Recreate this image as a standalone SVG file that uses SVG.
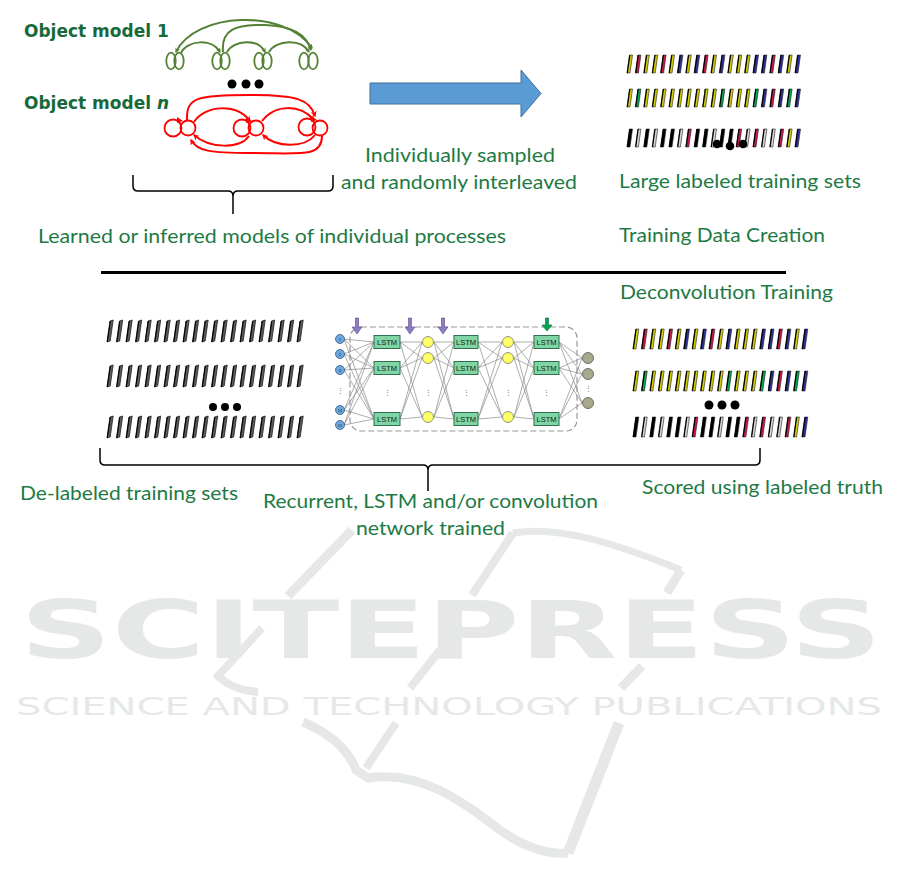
<svg xmlns="http://www.w3.org/2000/svg" xmlns:xlink="http://www.w3.org/1999/xlink" width="901" height="890" viewBox="0 0 901 890">
<style>
.t{font-family:Lato,"Open Sans","Noto Sans",sans-serif;font-size:19px;fill:#1e7a44}
.h{font-family:"DejaVu Sans",Verdana,sans-serif;font-weight:bold;font-size:17px;fill:#17693a}
.wm{fill:#e6e8e8;font-family:"DejaVu Sans",sans-serif}
.sw{fill:none;stroke:#e6e8e8;stroke-linecap:butt}
.gr{fill:none;stroke:#548235;stroke-width:2}
.rd{fill:none;stroke:#ff0000;stroke-width:2}
.Y{fill:#d2cc00}.R{fill:#c8184a}.B{fill:#2e2e9a}.G{fill:#00a651}.W{fill:#d6d6d6}.K{fill:#000}
.lstm{fill:#7fd6a4;stroke:#2f6f4f;stroke-width:1}
.lt{font-family:"Liberation Sans",Arial,sans-serif;font-size:7.5px;fill:#1a1a1a;text-anchor:middle}
.yel{fill:#ffff66;stroke:#777;stroke-width:0.8}
.inp{fill:#6fa8dc;stroke:#2e5c8a;stroke-width:0.8}
.out{fill:#a9a98c;stroke:#555;stroke-width:0.8}
.vd{font-family:"Liberation Sans",Arial,sans-serif;font-size:7px;fill:#666;text-anchor:middle}
.brace{fill:none;stroke:#000;stroke-width:1.5}
</style>
<defs>
<marker id="ag" viewBox="0 0 10 10" refX="8" refY="5" markerWidth="5" markerHeight="5" orient="auto-start-reverse" markerUnits="userSpaceOnUse"><path d="M0,0 L10,5 L0,10 L3,5 Z" fill="#548235"/></marker>
<marker id="ar" viewBox="0 0 10 10" refX="8" refY="5" markerWidth="6" markerHeight="6" orient="auto-start-reverse" markerUnits="userSpaceOnUse"><path d="M0,0 L10,5 L0,10 L3,5 Z" fill="#ff0000"/></marker>
<g id="cb"><path d="M0,18 L2.5,0 L5.5,0 L3,18 Z" stroke="#222" stroke-width="0.6"/><path d="M0.3,18 L2.8,0" stroke="#000" stroke-width="1.2"/></g>
<g id="cb2"><path d="M0,20 L2.8,0 L5.8,0 L3,20 Z" stroke="#222" stroke-width="0.6"/><path d="M0.3,20 L3.1,0" stroke="#000" stroke-width="1.2"/></g>
<g id="gb"><path d="M0,22 L3,1 L6.2,0 L3.2,21 Z" fill="#5c5c5c" stroke="#111" stroke-width="0.7"/><path d="M0.3,22 L3.3,1" stroke="#000" stroke-width="1.1"/></g>
</defs>
<rect width="901" height="890" fill="#fff"/>

<g id="watermark">
<path class="sw" stroke-width="9" d="M352,530 L288,596"/>
<path class="sw" stroke-width="8" d="M262,628 L218,676 Q232,690 258,692"/>
<path class="sw" stroke-width="9" d="M303,722 Q345,740 356,770 L368,778 C420,770 460,800 500,830 C525,848 550,855 568,853"/>
<path class="sw" stroke-width="11" d="M568,853 L619,723"/>
<path class="sw" stroke-width="9" d="M642,666 L621,688"/>
<path class="sw" stroke-width="9" d="M681,570 L667,593"/>
<path class="sw" stroke-width="7" d="M513,533 C560,525 620,545 681,570"/>
<path class="sw" stroke-width="8" d="M513,533 L472,595"/>
<path class="sw" stroke-width="8" d="M444,645 L410,688"/>
<path class="sw" stroke-width="8" d="M396,723 L366,768"/>
<text class="wm" x="20" y="658" font-size="80" font-weight="bold" textLength="862" lengthAdjust="spacingAndGlyphs">SCITEPRESS</text>
<text class="wm" x="16" y="715" font-size="25" textLength="866" lengthAdjust="spacingAndGlyphs">SCIENCE AND TECHNOLOGY PUBLICATIONS</text>
</g>

<g id="object-model-1">
<text class="h" x="24" y="37">Object model 1</text>
<ellipse cx="171" cy="61" rx="4.7" ry="8.3" fill="none" stroke="#548235" stroke-width="1.8"/>
<ellipse cx="179" cy="61" rx="4.7" ry="8.3" fill="none" stroke="#548235" stroke-width="1.8"/>
<ellipse cx="217" cy="61" rx="4.7" ry="8.3" fill="none" stroke="#548235" stroke-width="1.8"/>
<ellipse cx="225" cy="61" rx="4.7" ry="8.3" fill="none" stroke="#548235" stroke-width="1.8"/>
<ellipse cx="259" cy="61" rx="4.7" ry="8.3" fill="none" stroke="#548235" stroke-width="1.8"/>
<ellipse cx="267" cy="61" rx="4.7" ry="8.3" fill="none" stroke="#548235" stroke-width="1.8"/>
<ellipse cx="304" cy="61" rx="4.7" ry="8.3" fill="none" stroke="#548235" stroke-width="1.8"/>
<ellipse cx="313" cy="61" rx="4.7" ry="8.3" fill="none" stroke="#548235" stroke-width="1.8"/>
</g>

<g id="dots-top">
<circle cx="232" cy="84" r="4.5"/><circle cx="246" cy="84" r="4.5"/><circle cx="259" cy="84" r="4.5"/>
</g>

<g id="object-model-n">
<text class="h" x="24" y="109">Object model <tspan font-style="italic">n</tspan></text>
<circle cx="173" cy="128" r="8.5" fill="none" stroke="#ff0000" stroke-width="1.8"/>
<circle cx="188" cy="128" r="7.5" fill="none" stroke="#ff0000" stroke-width="1.8"/>
<circle cx="242" cy="128" r="8.5" fill="none" stroke="#ff0000" stroke-width="1.8"/>
<circle cx="256" cy="128" r="7.5" fill="none" stroke="#ff0000" stroke-width="1.8"/>
<circle cx="307" cy="127" r="8.5" fill="none" stroke="#ff0000" stroke-width="1.8"/>
<circle cx="320" cy="128" r="7.5" fill="none" stroke="#ff0000" stroke-width="1.8"/>
<path d="M177,117 L183,121 L177,123 Z" fill="#ff0000"/>
<path d="M246,117 L252,121 L246,123 Z" fill="#ff0000"/>
<path d="M311,116 L317,120 L311,122 Z" fill="#ff0000"/>
</g>

<g id="connectors">
<path class="gr" marker-end="url(#ag)" d="M181,53 C187,40 212,38 220,52"/>
<path class="gr" marker-end="url(#ag)" d="M227,52 C234,40 258,38 265,52"/>
<path class="gr" marker-end="url(#ag)" d="M269,52 C276,40 301,38 309,52"/>
<path class="gr" marker-end="url(#ag)" d="M223,52 C221,30 235,24 265,25 C292,26 306,34 311,50"/>
<path class="gr" marker-start="url(#ag)" marker-end="url(#ag)" d="M176,52 C195,12 285,8 312,48"/>
<path class="rd" marker-end="url(#ar)" d="M194,122 C205,105 236,103 250,121"/>
<path class="rd" marker-end="url(#ar)" d="M262,121 C275,104 300,104 314,120"/>
<path class="rd" marker-end="url(#ar)" d="M187,120 C186,97 198,95 250,95 C296,95 310,99 315,116"/>
<path class="rd" marker-end="url(#ar)" d="M315,135 C305,148 276,148 263,135"/>
<path class="rd" marker-end="url(#ar)" d="M249,136 C240,149 210,149 194,135"/>
<path class="rd" marker-end="url(#ar)" d="M322,136 C322,158 300,153 250,153 C210,153 197,151 191,140"/>
<path class="brace" d="M133,175 L133,186 Q133,191 138,191 L228,191 Q233,191 233,196 L233,214 M333,175 L333,186 Q333,191 328,191 L238,191 Q233,191 233,196"/>
<path class="brace" d="M100,448 L100,460 Q100,465 105,465 L423,465 Q428,465 428,470 L428,491 M760,448 L760,460 Q760,465 755,465 L433,465 Q428,465 428,470"/>
</g>

<g id="arrow">
<polygon points="370,83 521,83 521,70 541,93.5 521,117 521,104 370,104" fill="#5b9bd5" stroke="#41719c" stroke-width="1"/>
</g>

<g id="labels">
<text class="t" x="460" y="162" text-anchor="middle" textLength="190" lengthAdjust="spacingAndGlyphs">Individually sampled</text>
<text class="t" x="459" y="189" text-anchor="middle" textLength="236" lengthAdjust="spacingAndGlyphs">and randomly interleaved</text>
<text class="t" x="619" y="188" textLength="242" lengthAdjust="spacingAndGlyphs">Large labeled training sets</text>
<text class="t" x="38" y="243" textLength="468" lengthAdjust="spacingAndGlyphs">Learned or inferred models of individual processes</text>
<text class="t" x="619" y="242" textLength="206" lengthAdjust="spacingAndGlyphs">Training Data Creation</text>
<text class="t" x="620" y="299" textLength="213" lengthAdjust="spacingAndGlyphs">Deconvolution Training</text>
<text class="t" x="20" y="500" textLength="218" lengthAdjust="spacingAndGlyphs">De-labeled training sets</text>
<text class="t" x="263" y="508" textLength="335" lengthAdjust="spacingAndGlyphs">Recurrent, LSTM and/or convolution</text>
<text class="t" x="356" y="535" textLength="149" lengthAdjust="spacingAndGlyphs">network trained</text>
<text class="t" x="642" y="494" textLength="241" lengthAdjust="spacingAndGlyphs">Scored using labeled truth</text>
</g>

<g id="divider">
<line x1="101" y1="272.5" x2="786" y2="272.5" stroke="#000" stroke-width="3"/>
</g>

<g id="labeled-sets-top">
<g transform="translate(627,55)">
<use href="#cb" x="0" class="Y"/><use href="#cb" x="8.4" class="R"/><use href="#cb" x="16.8" class="Y"/><use href="#cb" x="25.2" class="Y"/><use href="#cb" x="33.6" class="R"/><use href="#cb" x="42" class="Y"/><use href="#cb" x="50.4" class="B"/><use href="#cb" x="58.8" class="Y"/><use href="#cb" x="67.2" class="B"/><use href="#cb" x="75.6" class="R"/><use href="#cb" x="84" class="Y"/><use href="#cb" x="92.4" class="B"/><use href="#cb" x="100.8" class="Y"/><use href="#cb" x="109.2" class="Y"/><use href="#cb" x="117.6" class="Y"/><use href="#cb" x="126" class="B"/><use href="#cb" x="134.4" class="B"/><use href="#cb" x="142.8" class="R"/><use href="#cb" x="151.2" class="B"/><use href="#cb" x="159.6" class="Y"/><use href="#cb" x="168" class="B"/>
</g>
<g transform="translate(627,89)">
<use href="#cb" x="0" class="Y"/><use href="#cb" x="8.4" class="G"/><use href="#cb" x="16.8" class="Y"/><use href="#cb" x="25.2" class="Y"/><use href="#cb" x="33.6" class="Y"/><use href="#cb" x="42" class="Y"/><use href="#cb" x="50.4" class="Y"/><use href="#cb" x="58.8" class="Y"/><use href="#cb" x="67.2" class="Y"/><use href="#cb" x="75.6" class="Y"/><use href="#cb" x="84" class="Y"/><use href="#cb" x="92.4" class="G"/><use href="#cb" x="100.8" class="Y"/><use href="#cb" x="109.2" class="Y"/><use href="#cb" x="117.6" class="Y"/><use href="#cb" x="126" class="G"/><use href="#cb" x="134.4" class="B"/><use href="#cb" x="142.8" class="R"/><use href="#cb" x="151.2" class="B"/><use href="#cb" x="159.6" class="G"/><use href="#cb" x="168" class="B"/>
</g>
<g transform="translate(627,129)">
<use href="#cb" x="0" class="K"/><use href="#cb" x="8.4" class="W"/><use href="#cb" x="16.8" class="K"/><use href="#cb" x="25.2" class="W"/><use href="#cb" x="33.6" class="K"/><use href="#cb" x="42" class="K"/><use href="#cb" x="50.4" class="W"/><use href="#cb" x="58.8" class="R"/><use href="#cb" x="67.2" class="K"/><use href="#cb" x="75.6" class="K"/><use href="#cb" x="84" class="W"/><use href="#cb" x="92.4" class="K"/><use href="#cb" x="100.8" class="K"/><use href="#cb" x="109.2" class="R"/><use href="#cb" x="117.6" class="W"/><use href="#cb" x="126" class="R"/><use href="#cb" x="134.4" class="W"/><use href="#cb" x="142.8" class="W"/><use href="#cb" x="151.2" class="R"/><use href="#cb" x="159.6" class="Y"/><use href="#cb" x="168" class="B"/>
</g>
<circle cx="717" cy="144" r="4.3"/><circle cx="730" cy="146" r="4.3"/><circle cx="743" cy="144" r="4.3"/>
</g>

<g id="delabeled-sets">
<g transform="translate(107,320)">
<use href="#gb" x="0"/><use href="#gb" x="9.5"/><use href="#gb" x="19"/><use href="#gb" x="28.5"/><use href="#gb" x="38"/><use href="#gb" x="47.5"/><use href="#gb" x="57"/><use href="#gb" x="66.5"/><use href="#gb" x="76"/><use href="#gb" x="85.5"/><use href="#gb" x="95"/><use href="#gb" x="104.5"/><use href="#gb" x="114"/><use href="#gb" x="123.5"/><use href="#gb" x="133"/><use href="#gb" x="142.5"/><use href="#gb" x="152"/><use href="#gb" x="161.5"/><use href="#gb" x="171"/><use href="#gb" x="180.5"/><use href="#gb" x="190"/>
</g>
<g transform="translate(107,365)">
<use href="#gb" x="0"/><use href="#gb" x="9.5"/><use href="#gb" x="19"/><use href="#gb" x="28.5"/><use href="#gb" x="38"/><use href="#gb" x="47.5"/><use href="#gb" x="57"/><use href="#gb" x="66.5"/><use href="#gb" x="76"/><use href="#gb" x="85.5"/><use href="#gb" x="95"/><use href="#gb" x="104.5"/><use href="#gb" x="114"/><use href="#gb" x="123.5"/><use href="#gb" x="133"/><use href="#gb" x="142.5"/><use href="#gb" x="152"/><use href="#gb" x="161.5"/><use href="#gb" x="171"/><use href="#gb" x="180.5"/><use href="#gb" x="190"/>
</g>
<g transform="translate(107,416)">
<use href="#gb" x="0"/><use href="#gb" x="9.5"/><use href="#gb" x="19"/><use href="#gb" x="28.5"/><use href="#gb" x="38"/><use href="#gb" x="47.5"/><use href="#gb" x="57"/><use href="#gb" x="66.5"/><use href="#gb" x="76"/><use href="#gb" x="85.5"/><use href="#gb" x="95"/><use href="#gb" x="104.5"/><use href="#gb" x="114"/><use href="#gb" x="123.5"/><use href="#gb" x="133"/><use href="#gb" x="142.5"/><use href="#gb" x="152"/><use href="#gb" x="161.5"/><use href="#gb" x="171"/><use href="#gb" x="180.5"/><use href="#gb" x="190"/>
</g>
<circle cx="213" cy="407" r="4"/><circle cx="225" cy="407" r="4"/><circle cx="237" cy="407" r="4"/>
</g>

<g id="lstm-network">
<rect x="350" y="327" width="227" height="104" rx="11" fill="none" stroke="#999" stroke-width="1.2" stroke-dasharray="6,3"/>
<path fill="none" stroke="#8a8a8a" stroke-width="0.7" d="M344,339 L374,342 M344,339 L374,368 M344,339 L374,419 M344,354 L374,342 M344,354 L374,368 M344,354 L374,419 M344,370 L374,342 M344,370 L374,368 M344,370 L374,419 M344,410 L374,342 M344,410 L374,368 M344,410 L374,419 M344,425 L374,342 M344,425 L374,368 M344,425 L374,419
M400,342 L422,342 M400,342 L422,358 M400,342 L422,417 M400,368 L422,342 M400,368 L422,358 M400,368 L422,417 M400,419 L422,342 M400,419 L422,358 M400,419 L422,417
M434,342 L454,342 M434,342 L454,368 M434,342 L454,419 M434,358 L454,342 M434,358 L454,368 M434,358 L454,419 M434,417 L454,342 M434,417 L454,368 M434,417 L454,419
M478,342 L502,342 M478,342 L502,358 M478,342 L502,417 M478,368 L502,342 M478,368 L502,358 M478,368 L502,417 M478,419 L502,342 M478,419 L502,358 M478,419 L502,417
M514,342 L534,342 M514,342 L534,368 M514,342 L534,419 M514,358 L534,342 M514,358 L534,368 M514,358 L534,419 M514,417 L534,342 M514,417 L534,368 M514,417 L534,419
M559,342 L582,358 M559,342 L582,374 M559,342 L582,403 M559,368 L582,358 M559,368 L582,374 M559,368 L582,403 M559,419 L582,358 M559,419 L582,374 M559,419 L582,403"/>
<circle class="inp" cx="340" cy="339" r="4.5"/><circle class="inp" cx="340" cy="354" r="4.5"/><circle class="inp" cx="340" cy="370" r="4.5"/><circle class="inp" cx="340" cy="410" r="4.5"/><circle class="inp" cx="340" cy="425" r="4.5"/>
<text x="340" y="340.5" font-size="4" class="lt" style="font-size:4px">1</text><text x="340" y="355.5" class="lt" style="font-size:4px">2</text><text x="340" y="371.5" class="lt" style="font-size:4px">3</text><text x="340" y="411.5" class="lt" style="font-size:4px">14</text><text x="340" y="426.5" class="lt" style="font-size:4px">15</text>
<text class="vd" x="340" y="393">⋮</text>
<rect class="lstm" x="374" y="335.5" width="26" height="13"/><rect class="lstm" x="374" y="361.5" width="26" height="13"/><rect class="lstm" x="374" y="412.5" width="26" height="13"/>
<rect class="lstm" x="454" y="335.5" width="24" height="13"/><rect class="lstm" x="454" y="361.5" width="24" height="13"/><rect class="lstm" x="454" y="412.5" width="24" height="13"/>
<rect class="lstm" x="534" y="335.5" width="25" height="13"/><rect class="lstm" x="534" y="361.5" width="25" height="13"/><rect class="lstm" x="534" y="412.5" width="25" height="13"/>
<text class="lt" x="387" y="344.7">LSTM</text><text class="lt" x="387" y="370.7">LSTM</text><text class="lt" x="387" y="421.7">LSTM</text>
<text class="lt" x="466" y="344.7">LSTM</text><text class="lt" x="466" y="370.7">LSTM</text><text class="lt" x="466" y="421.7">LSTM</text>
<text class="lt" x="546.5" y="344.7">LSTM</text><text class="lt" x="546.5" y="370.7">LSTM</text><text class="lt" x="546.5" y="421.7">LSTM</text>
<text class="vd" x="387" y="395">⋮</text><text class="vd" x="428" y="395">⋮</text><text class="vd" x="466" y="395">⋮</text><text class="vd" x="508" y="395">⋮</text><text class="vd" x="546.5" y="395">⋮</text><text class="vd" x="588" y="391">⋮</text>
<circle class="yel" cx="428" cy="342" r="5.5"/><circle class="yel" cx="428" cy="358" r="5.5"/><circle class="yel" cx="428" cy="417" r="5.5"/>
<circle class="yel" cx="508" cy="342" r="5.5"/><circle class="yel" cx="508" cy="358" r="5.5"/><circle class="yel" cx="508" cy="417" r="5.5"/>
<circle class="out" cx="588" cy="358" r="5.5"/><circle class="out" cx="588" cy="374" r="5.5"/><circle class="out" cx="588" cy="403" r="5.5"/>
<path d="M355.5,318 L358.5,318 L358.5,327 L362,327 L357,334 L352,327 L355.5,327 Z" fill="#8e7cc3" stroke="#5a4a8a" stroke-width="0.6"/>
<path d="M408.5,318 L411.5,318 L411.5,327 L415,327 L410,334 L405,327 L408.5,327 Z" fill="#8e7cc3" stroke="#5a4a8a" stroke-width="0.6"/>
<path d="M441.5,318 L444.5,318 L444.5,327 L448,327 L443,334 L438,327 L441.5,327 Z" fill="#8e7cc3" stroke="#5a4a8a" stroke-width="0.6"/>
<path d="M545.5,318 L548.5,318 L548.5,325 L552,325 L547,331 L542,325 L545.5,325 Z" fill="#00a550" stroke="#006b33" stroke-width="0.6"/>
</g>

<g id="scored-sets">
<g transform="translate(633,329)">
<use href="#cb2" x="0" class="Y"/><use href="#cb2" x="8.45" class="R"/><use href="#cb2" x="16.9" class="Y"/><use href="#cb2" x="25.35" class="Y"/><use href="#cb2" x="33.8" class="R"/><use href="#cb2" x="42.25" class="Y"/><use href="#cb2" x="50.7" class="B"/><use href="#cb2" x="59.15" class="Y"/><use href="#cb2" x="67.6" class="B"/><use href="#cb2" x="76.05" class="R"/><use href="#cb2" x="84.5" class="Y"/><use href="#cb2" x="92.95" class="B"/><use href="#cb2" x="101.4" class="Y"/><use href="#cb2" x="109.85" class="Y"/><use href="#cb2" x="118.3" class="Y"/><use href="#cb2" x="126.75" class="B"/><use href="#cb2" x="135.2" class="B"/><use href="#cb2" x="143.65" class="R"/><use href="#cb2" x="152.1" class="B"/><use href="#cb2" x="160.55" class="Y"/><use href="#cb2" x="169" class="B"/>
</g>
<g transform="translate(633,371)">
<use href="#cb2" x="0" class="Y"/><use href="#cb2" x="8.45" class="G"/><use href="#cb2" x="16.9" class="Y"/><use href="#cb2" x="25.35" class="Y"/><use href="#cb2" x="33.8" class="Y"/><use href="#cb2" x="42.25" class="Y"/><use href="#cb2" x="50.7" class="Y"/><use href="#cb2" x="59.15" class="Y"/><use href="#cb2" x="67.6" class="Y"/><use href="#cb2" x="76.05" class="Y"/><use href="#cb2" x="84.5" class="Y"/><use href="#cb2" x="92.95" class="G"/><use href="#cb2" x="101.4" class="Y"/><use href="#cb2" x="109.85" class="Y"/><use href="#cb2" x="118.3" class="Y"/><use href="#cb2" x="126.75" class="G"/><use href="#cb2" x="135.2" class="B"/><use href="#cb2" x="143.65" class="R"/><use href="#cb2" x="152.1" class="B"/><use href="#cb2" x="160.55" class="G"/><use href="#cb2" x="169" class="B"/>
</g>
<g transform="translate(633,417)">
<use href="#cb2" x="0" class="K"/><use href="#cb2" x="8.45" class="W"/><use href="#cb2" x="16.9" class="K"/><use href="#cb2" x="25.35" class="W"/><use href="#cb2" x="33.8" class="K"/><use href="#cb2" x="42.25" class="K"/><use href="#cb2" x="50.7" class="W"/><use href="#cb2" x="59.15" class="R"/><use href="#cb2" x="67.6" class="K"/><use href="#cb2" x="76.05" class="K"/><use href="#cb2" x="84.5" class="W"/><use href="#cb2" x="92.95" class="K"/><use href="#cb2" x="101.4" class="K"/><use href="#cb2" x="109.85" class="R"/><use href="#cb2" x="118.3" class="W"/><use href="#cb2" x="126.75" class="R"/><use href="#cb2" x="135.2" class="W"/><use href="#cb2" x="143.65" class="W"/><use href="#cb2" x="152.1" class="R"/><use href="#cb2" x="160.55" class="Y"/><use href="#cb2" x="169" class="B"/>
</g>
<circle cx="709" cy="405" r="4.5"/><circle cx="722" cy="405" r="4.5"/><circle cx="735" cy="405" r="4.5"/>
</g>
</svg>
